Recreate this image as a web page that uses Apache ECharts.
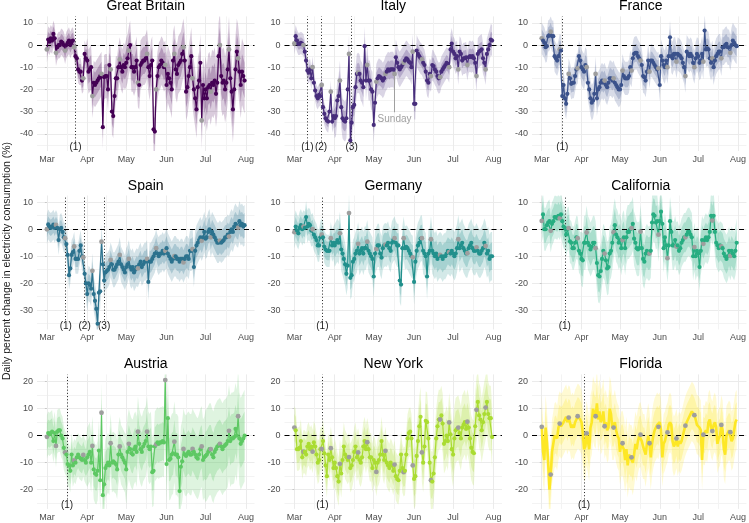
<!DOCTYPE html>
<html><head><meta charset="utf-8">
<script src="https://cdn.jsdelivr.net/npm/echarts@6/dist/echarts.min.js"></script>
<style>html,body{margin:0;padding:0;background:#fff}#c{width:749px;height:523px}</style>
</head><body><div id="c"></div>
<script>
// ---------- axis data ----------
const monthTicks = [0, 31, 61, 92, 122, 153];          // day index of Mar 1 ... Aug 1
const monthLabels = ['Mar', 'Apr', 'May', 'Jun', 'Jul', 'Aug'];
const minorX = [15.5, 46, 76.5, 107, 137.5];
const row1Ticks = [-40, -30, -20, -10, 0, 10];
const row2Ticks = [-30, -20, -10, 0, 10];
const row3Ticks = [-20, -10, 0, 10, 20];

// ---------- series values (daily, Mar 1 .. Jul 31) ----------
const gbVals = [-2,2.5,1.5,3,2,5,3, -3.5,-1,0,0,1.5,1,0, -2.5,0,1,2,0,1.5,2, -1,-5,-6,-11,-12,-12,-16,
 -15,-4,-6,-7,-12,-11,-10, -23,-17,-18,-17,-16,-15,-14, -13,-37,-14.5,-14,-14,-20,-9, -11,-30,-32,-23,-15,-15,-10,
 -6.5,-10,-12,-9,-10,-8,-6, -2.5,0,-10,-10,-12,-10,-7, -17,-18,-9,-8,-7,-7,-6, -4,-10,-14,-9,-7,-38,-39,
 -20,-14,-10,-9,-7,-8,-10, -9,-18,-13,-15,-17,-20,-7, -4,-11,-13,-9,-8,-7,-4, -1,-7,-21,-19,-14,-10,-5,
 -15,-20,-24,-29,-19,-16,-8, -34,-18,-24,-20,-24,-19,-18, -21,-17,-18,-16,-22,-17,-5, 0,-14,-17,-16,-20,-17,-11,
 -2,-15,-21,-29,-20,-11,-3, -6,-12,-18,-12,-14,-16];
const itVals = [0.7,4,2,0.5,0.5,1,0.5, 0,-3,-7,-11.5,-12.5,-11,-15, -10,-17,-20.5,-23,-24,-22.5,-23, -18,-28,-31,-33,-34,-34.5,-30,
 -21,-34.5,-32,-33,-32,-25,-23, -16,-28,-33,-34,-34.5,-33,-20, -4,-43,-35,-28,-27,-19,-13, -12.5,-13,-16,-17,-19,-0.5,-16,
 -9,-16,-16,-20,-21,-36,-26, -16.5,-15,-14,-14.5,-15,-16,-15, -13,-12,-11,-11.5,-11,-11,-11, -13,-5.5,-8,-10,-11,-10,-9,
 -8,-7,-6,-6.5,-7.5,-8,-10, -3,-26.5,-26.5,-2.5,-4,-5,-6, -6.5,-8,-9,-12,-16,-17,-13, -14,-9,-9.5,-11,-12,-14,-15,
 -14.5,-12,-11,-10,-9,-8,-8.5, -10,-2,0.7,-3,-4,-6,-5, -11,-3,-4,-7,-6,-6,-5.5, -9,-5.5,-5,-5.5,-5,-6,-8,
 -14,-4,-3,-2.5,-2,-6,-8, -11,-4,-2,0,2.5,2];
const frVals = [3,2,1,-1,-0.5,4,4.5, 6,4,4,-5,-6,-7,-5, -2,-2.5,-23,-18,-24,-26.5,-22, -13,-15,-17.5,-17,-17,-14,-11,
 -10.5,-5,-7,-10,-11,-12,-9, -10,-17,-20,-24,-26,-25,-22, -13,-24,-20,-19,-17,-16,-17, -16,-18,-19,-17,-15,-15,-16,
 -15,-17,-18,-19,-20,-20,-18, -11.5,-14,-15,-15,-15,-14,-10, -11.5,-6,-4,-3.5,-3.5,-5,-6, -7,-9,-14,-14.5,-16,-12,-7,
 -12,-7,-7,-8,-9,-10,-11, -10.5,-18,-5,-7,-9,-10,-7, -10,-5,3.5,-5,-6,-4,-4, -7.5,-4,-4.5,-5,-6,-8,-10,
 -14,-3,-4,-5,-4,-5,-8, -10,-6,-4,-5,-8,-7,-4, -7.5,6.5,-2,-1.5,-2,-6,-8, -6,-10,-7,-5,-4,-3,-3,
 -6,-1,-1,0,0.5,-1,-1, -3.5,0,2,1,0,-0.5];
const esVals = [0,1.8,1,0.5,1,1.7,0.5, 1.6,0.5,-4,0,0.5,-1,-3, -3.3,-5.5,-9.5,-17,-14.5,-9.5,-8.5, -6.4,-11,-11,-11,-8,-6,-10,
 -10.4,-16.5,-20,-24,-20,-20.5,-22, -15.4,-24,-26.5,-29.5,-35,-23.5,-23, -4.6,-13,-19,-16,-15.5,-15,-14, -11.4,-13,-15,-15,-14,-13,-12,
 -9.5,-13,-14,-15,-16,-14,-13, -11,-14,-15,-14,-16,-15,-14, -14.5,-13,-12,-14,-13,-12,-12, -11,-19.5,-12,-12,-11,-10,-9,
 -7,-9,-10,-9,-9,-8,-9, -8,-7,-9,-10,-11,-12,-11, -10,-10,-11,-11,-12,-11,-11, -12.3,-11,-10,-10,-11,-8,-8,
 -7.4,-14,-8,-6,-5,-4,-3, -4.3,-3,-1,-3.5,-3,-1,0, -3,-1,-2,-3,-4,-5,-5, -4.2,-5,-4.5,-4,-3,-3,-2,
 -2.7,-1,0,-1,1,2,1, 0.6,3,1.5,2,1,1.5];
const deVals = [-1.1,1,-0.5,-1.5,0.5,1.5,0, 1,0.5,4.5,1,2,1.5,-0.5, 0,-2,-3,-4,-6,-6,-3, -2,-3,-6.5,-7.5,-8,-8,-8,
 -3.3,-6,-5,-6,-5,-4,-5, -1.5,-7.5,-9,-11,-13,-16.5,-13.5, 6,-18,-17,-12,-11,-9,-8, -5.4,-9,-8,-7,-9,-7,-7,
 -4.6,-8,-9,-10,-11,-17.5,-9, -7.3,-6,-6,-9,-10.5,-7,-6, -5.7,-6,-5,-7,-8,-5,-4, -3.3,-5,-6,-6,-19,-20.5,-7,
 -3.3,-7,-6.5,-7,-8,-9,-10, -10.4,-19.5,-12,-8,-6,-5,-3.5, -3.3,-8,-9,-10,-17.5,-9,-8, -3.7,-8,-9,-10,-9,-11,-10,
 -9.5,-10,-11,-10,-10,-9,-8, -8.5,-9,-8,-9,-10,-9,-7, -3.7,-7,-6,-5,-7,-8,-9, -8.9,-7,-6,-5,-7,-8,-8,
 -6.7,-8,-9,-9,-8,-7,-5, -6.2,-9,-8,-11,-10,-10];
const caVals = [3.1,5.5,0,0,1.5,2.5,3, -0.6,2,3,4.5,4.5,4,5, 4,5.5,3,1,0.5,-2,0, 0.4,-4.5,-5,-7,-7,-5,-3,
 -3.3,-8,-9,-11,-11.5,-5,-5, -1.2,-5,-6,-7.5,-6.5,-5,-5, -7,-12.5,-17,-17.5,-15.5,-11,-8, -9,-11.5,-14.5,-14,-9,-8,-5,
 -1.1,1.5,-2,-3,-5,-4,-7, -4,-3,-7,-3,-1,-1,0, 0.4,2,-3.5,-5,-7,-7.5,-7, -0.9,-7,-11,-12,-9,-8,-9,
 -9,-8,2.5,5.5,5,2.5,3, -2,3,6.5,2,-7,-3,-6, -10.7,-6,3,-1,-6,-6,-4, -6.4,-6,-8,-7,-5,-4,-3,
 -3,-2,-1,-1,-2,-3,-10, -6.6,-10,-8,-9,-14,-8,-4, -5.4,-4,-3,-4,-3,-1,5, 3.2,5,-1,-5,-6,-7,-6,
 -6.4,-7,-9,-10,-11,-10,-8, -9.9,-8,-9,-10,-8,-5];
const atVals = [-0.4,1,0.5,1,1.5,-2,1, -3.8,1.5,2,2,0,-1,-4.5, -6.2,-7,-10.5,-11,-13,-7,-11, -9.1,-10,-8,-7,-8,-8.5,-9,
 -7.1,-9,-10,-8,-7,-6,-10, -3.8,-12.5,-14,-14.5,-13,-5.5,-16.5, 8.5,-22,-18,-12,-11,-10,-11, -2.8,-10,-9.5,-10,-10.5,-12.5,-7,
 -4,-7,-8,-9,-10,-12.5,-6, -3,-5,-6.5,-7,-5,-4,-6, 1.5,-3,-5,-6,-4,-3,-2, 1.5,-4,-5,-4,-13.5,-13,-4,
 -3.2,-2.5,-3,-2.5,-2.5,-2,-2.5, 20.6,-10.5,6.5,-9,-8.5,-7,-6.5, -2.2,-7,-7,-8,-20.5,-11.5,-9.5, -4.9,-7,-7.5,-6.5,-6,-7,-7,
 -4.9,-6,-7,-8,-8.5,-7,-5, -4,-9,-8,-7.5,-7,-6,-5, -5,-7,-8,-6,-5,-4,-3.5, -3,-4,-5,-4,-3.5,-3,-2,
 1.8,-2,-1,-1,-0.5,2.5,0, 7.2,-1,-3,-2,-1,0];
const nyVals = [3,2,-5,-5,-4.5,-2,-8, -5.9,-6,-7,-4,-3,-5,-4, -5.9,-2.5,-4,-7,-10,-9,-5, -4.9,-2,-6.5,-11,-15,-7,-9,
 -4.6,-8,-12,-10,-12,-15,-17, -10.4,-14,-9,-4,-7,-8,-9, -7.9,-12,-11,-9,-6,-4,-8, -6.2,-9,-10,-8,-4,-2,-5,
 -2.4,-5,-8,-8,-12,-9,-10, -13.4,-10,-9,-7,-2,-7,-9, -5.6,-10,-11,-12,-10,-11,-13, -10.7,-15,-16,-16.5,-13,-7,-12,
 -13.5,-13,-7,-1,1,1.5,-1, -11,-16,-15,-7.5,-2,3.5,7, -6.2,-10,-4,5.5,5,-1,-10, -16.5,-17,-14,-8,-1,3.5,6,
 6,7.5,4.5,-3,-2,0,-2, 4.9,0.5,-5,-7,-1,2,2.5, 3,1,-1,3,4,5,2.5, 5.2,3,-1,-4.5,-6,-6.5,3.5,
 9.6,12.5,7.5,6,2,5,8, 10.4,12.5,8,6.5,6.5,-0.5];
const flVals = [3.3,-6,-9,3,-2,-10,-20, -14.4,-6,-3,0,0.5,-1,3, 4.5,3.5,4,5,6,7,5, 6.7,6,3,4,3,5,6,
 7.2,7,6,5,1,-5,-4, 0.9,-2,-5,3,5,10,8, 7.2,12,6,9,5,6,9, 3.5,5,2,3,10,8,3,
 3,5,2,0,-1,-6,-3, -2.8,-5,-9,-5,-11,-7,-8, -8,-10,-7,-3,-5,-2,0, 0.4,-2,-4,-4,-7,-3,0,
 -2.8,-8,-3,0,2,3,4, 3.3,5,2,-8,-3,-2,0, 1.2,4,5,4,-2,-4,-3, -1,-4,-2,-3,-2,0,2,
 3.7,5,6,7,8,9,8.5, 7.6,6,4,4,3,2,-9, 0.4,0,2,1,5,6,3, 1.7,4,5,3,-3,-1,0,
 4,2,-5,-7,0,1,2, 1.3,-2,-1,2,5,6];

// band half-widths per month (Mar..Jul): outer and inner intervals
const gbOuter = [6, 10, 11, 13, 15],  gbInner = [3.5, 5.5, 6, 7, 8];
const itOuter = [5, 9, 8, 7, 7],      itInner = [2.5, 4.5, 4, 3.5, 3.5];
const frOuter = [7, 8, 7.5, 7.5, 8],  frInner = [4, 4.5, 4, 4, 4.5];
const esOuter = [5.5, 6.5, 7, 7.5, 7.5], esInner = [3, 3.5, 4, 4.5, 4.5];
const deOuter = [6, 8, 8, 8.5, 9],    deInner = [3.5, 4.5, 4.5, 5, 5];
const caOuter = [8, 10, 10, 9, 9],    caInner = [5, 6, 6, 5.5, 5.5];
const atOuter = [8, 11, 13, 15, 17],  atInner = [5, 6, 7, 8, 9];
const nyOuter = [8, 9, 9, 11, 12],    nyInner = [5, 5.5, 5.5, 6.5, 7];
const flOuter = [12, 12, 12, 11, 11], flInner = [7, 7, 7, 6.5, 6.5];

// policy event days (day index from Mar 1)
const gbEvents = [22], itEvents = [10, 20.5, 44], frEvents = [16], esEvents = [14.5, 29, 44];
const deEvents = [21.5], caEvents = [18], atEvents = [15.5], nyEvents = [21.5], flEvents = [33];
const itSundayNote = [77, -13.5];

const panels = [
  {name:'Great Britain', vals:gbVals, color:'#440154', outer:gbOuter, inner:gbInner, events:gbEvents},
  {name:'Italy',         vals:itVals, color:'#472D7B', outer:itOuter, inner:itInner, events:itEvents, note:itSundayNote},
  {name:'France',        vals:frVals, color:'#3B528B', outer:frOuter, inner:frInner, events:frEvents},
  {name:'Spain',         vals:esVals, color:'#2C728E', outer:esOuter, inner:esInner, events:esEvents},
  {name:'Germany',       vals:deVals, color:'#21908C', outer:deOuter, inner:deInner, events:deEvents},
  {name:'California',    vals:caVals, color:'#27AD81', outer:caOuter, inner:caInner, events:caEvents},
  {name:'Austria',       vals:atVals, color:'#5DC863', outer:atOuter, inner:atInner, events:atEvents},
  {name:'New York',      vals:nyVals, color:'#AADC32', outer:nyOuter, inner:nyInner, events:nyEvents},
  {name:'Florida',       vals:flVals, color:'#FDE725', outer:flOuter, inner:flInner, events:flEvents, thick:true}
];

// ---------- layout ----------
const FONT = '"Liberation Sans", Arial, Helvetica, sans-serif';
const colLeft = [37, 284.5, 532];
const plotW = 217.5;
const xMin = -7.6, xMax = 159.6;
const rows = [
  {top:16.4,  h:134.6, min:-47.75, max:12.9, ticks:row1Ticks, minor:[-45,-35,-25,-15,-5,5], lab:-43.5},
  {top:195.5, h:133.9, min:-37.1,  max:12.5, ticks:row2Ticks, minor:[-35,-25,-15,-5,5],    lab:-33.7},
  {top:374.4, h:134.5, min:-27.1,  max:22.7, ticks:row3Ticks, minor:[-25,-15,-5,5,15],     lab:-23.6}
];

function rgba(hex, a){
  const n = parseInt(hex.slice(1),16);
  return 'rgba(' + (n>>16&255) + ',' + (n>>8&255) + ',' + (n&255) + ',' + a + ')';
}
function monthOf(d){ let m = 0; for (let k=0;k<5;k++) if (d >= monthTicks[k]) m = k; return m; }

const grids = [], xAxes = [], yAxes = [], series = [], graphics = [];
const minorX2 = [], minorY2 = [];

function bandSeries(i, lower, upper, fill) {
  return {type:'custom', coordinateSystem:'cartesian2d', xAxisIndex:i, yAxisIndex:i,
    clip:true, silent:true, animation:false, z:1,
    data: lower.map((l,d) => [d, l, upper[d]]),
    encode:{x:0, y:[1,2]},
    renderItem: (params, api) => {
      if (params.dataIndex !== 0) return null;
      const pts = [];
      for (let d = 0; d < upper.length; d++) pts.push(api.coord([d, upper[d]]));
      for (let d = lower.length - 1; d >= 0; d--) pts.push(api.coord([d, lower[d]]));
      return {type:'polygon', shape:{points:pts}, style:{fill:fill}};
    }};
}

panels.forEach((p, i) => {
  const r = rows[Math.floor(i/3)], c = i % 3;
  grids.push({left:colLeft[c], top:r.top, width:plotW, height:r.h});
  xAxes.push({type:'value', gridIndex:i, min:xMin, max:xMax,
    axisLine:{show:false}, axisTick:{show:false, customValues:monthTicks},
    axisLabel:{customValues:monthTicks, color:'#4d4d4d', fontSize:9, fontFamily:FONT, margin:4,
      formatter: v => { let k = 0, best = 1e9; monthTicks.forEach((t,j)=>{ if (Math.abs(t-v)<best){best=Math.abs(t-v);k=j;} }); return monthLabels[k]; }},
    splitLine:{show:true, lineStyle:{color:'#ebebeb', width:1}}});
  yAxes.push({type:'value', gridIndex:i, min:r.min, max:r.max,
    axisLine:{show:false}, axisTick:{show:true, length:2, customValues:r.ticks, lineStyle:{color:'#c8c8c8'}},
    axisLabel:{customValues:r.ticks, color:'#4d4d4d', fontSize:9, fontFamily:FONT, margin:4},
    splitLine:{show:true, lineStyle:{color:'#ebebeb', width:1}}});
  minorX2.push({type:'value', gridIndex:i, min:xMin, max:xMax, position:'bottom',
    axisLine:{show:false}, axisTick:{show:false, customValues:minorX}, axisLabel:{show:false},
    splitLine:{show:true, lineStyle:{color:'#f3f3f3', width:1}}});
  minorY2.push({type:'value', gridIndex:i, min:r.min, max:r.max, position:'left',
    axisLine:{show:false}, axisTick:{show:false, customValues:r.minor}, axisLabel:{show:false},
    splitLine:{show:true, lineStyle:{color:'#f3f3f3', width:1}}});

  // prediction bands: outer (lighter) then inner on top
  const oLo = p.vals.map((v,d) => v - p.outer[monthOf(d)]);
  const oHi = p.vals.map((v,d) => v + p.outer[monthOf(d)]);
  const iLo = p.vals.map((v,d) => v - p.inner[monthOf(d)]);
  const iHi = p.vals.map((v,d) => v + p.inner[monthOf(d)]);
  series.push(bandSeries(i, oLo, oHi, rgba(p.color, 0.2)));
  series.push(bandSeries(i, iLo, iHi, rgba(p.color, 0.25)));

  // observed points / line
  const data = p.vals.map((v,d) => {
    if (d % 7 === 0) return {value:[d,v], symbol:'circle', symbolSize:4.8, itemStyle:{color:'#9e9e9e'}};
    if (p.thick) return {value:[d,v], symbol:'none'};
    return [d, v];
  });
  const ml = [
    {yAxis:0, lineStyle:{type:[5,4], color:'#000', width:1.1}, label:{show:false}}
  ];
  p.events.forEach((e,k) => {
    ml.push([
      {coord:[e, r.lab], lineStyle:{type:[1,2.2], color:'#222', width:1},
       label:{show:true, position:'start', formatter:'(' + (k+1) + ')', distance:1, color:'#1a1a1a', fontSize:10, fontFamily:FONT}},
      {coord:[e, r.max]}
    ]);
  });
  if (p.note) {
    ml.push([
      {coord:[p.note[0], p.note[1]], lineStyle:{type:'solid', color:'#a0a0a0', width:1},
       label:{show:true, position:'end', formatter:'Sunday', distance:2, color:'#a0a0a0', fontSize:10, fontFamily:FONT}},
      {coord:[p.note[0], -30.3]}
    ]);
  }
  series.push({type:'line', xAxisIndex:i, yAxisIndex:i, data:data, z:5, animation:false,
    symbol:'circle', symbolSize:4.2, showSymbol:true, showAllSymbol:true,
    itemStyle:{color:p.color}, lineStyle:{color:p.color, width:p.thick ? 2.6 : 1.2},
    markLine:{silent:true, symbol:['none','none'], animation:false, data:ml}});

  graphics.push({type:'text', x:colLeft[c] + plotW/2, y:r.top - 9.8, silent:true,
    style:{text:p.name, fill:'#000', font:'14px ' + FONT, textAlign:'center', textVerticalAlign:'middle', align:'center', verticalAlign:'middle'}});
});

graphics.push({type:'text', x:7, y:261, rotation:Math.PI/2, silent:true,
  style:{text:'Daily percent change in electricity consumption (%)', fill:'#1a1a1a', font:'10.5px ' + FONT,
    textAlign:'center', textVerticalAlign:'middle', align:'center', verticalAlign:'middle'}});

const chart = echarts.init(document.getElementById('c'), null, {renderer:'canvas'});
chart.setOption({
  animation:false,
  backgroundColor:'#fff',
  grid:grids,
  xAxis:xAxes.concat(minorX2),
  yAxis:yAxes.concat(minorY2),
  series:series,
  graphic:graphics
});
</script>
</body></html>
